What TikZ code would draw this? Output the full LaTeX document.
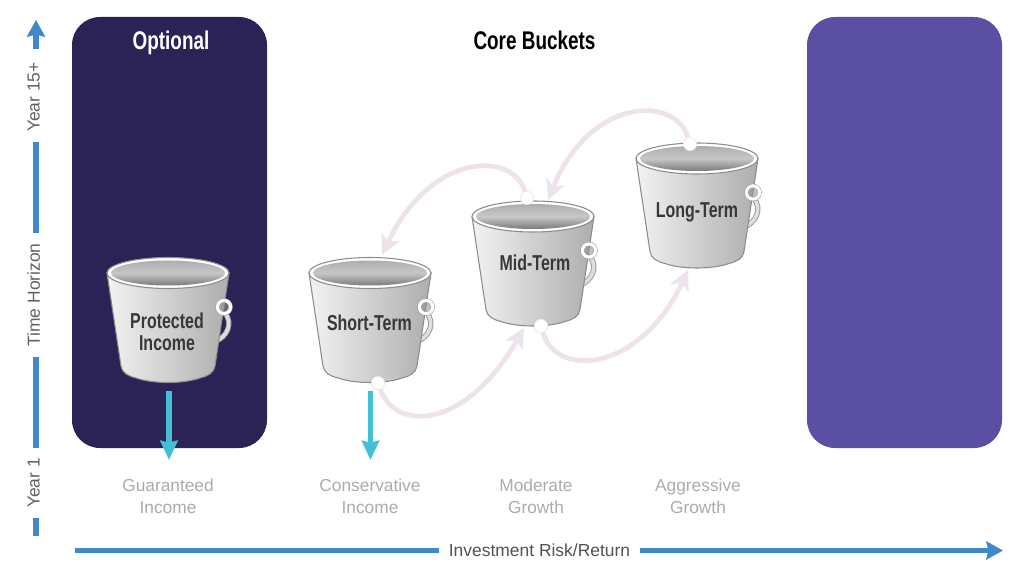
\documentclass[tikz,border=0pt]{standalone}
\usepackage{fontspec}
\setmainfont{Liberation Sans}
\newfontfamily\bucketfont[FakeStretch=0.74]{Liberation Sans}
\usetikzlibrary{arrows.meta}
\definecolor{optpanel}{HTML}{2B2356}
\definecolor{growpanel}{HTML}{5B4FA3}
\definecolor{axisblue}{HTML}{3F88C9}
\definecolor{drawteal}{HTML}{43C0D4}
\definecolor{flowpink}{HTML}{EEE3EA}
\tikzset{
  panel/.style={rounded corners=0.74cm},
  axisline/.style={axisblue, line width=4.4pt},
  axistip/.style={-{Stealth[length=12.5pt, width=13.5pt, inset=1.5pt]}},
  axislabel/.style={text=black!62, font=\fontsize{13.1}{15}\selectfont, text depth=0pt, inner ysep=0pt, inner xsep=0.264cm},
  timelabel/.style={axislabel, rotate=90, text depth=3.5pt},
  risklabel/.style={text=black!33, font=\fontsize{13}{16.4}\selectfont, align=center},
  bucketlabel/.style={text=black!78, font=\bucketfont\bfseries\fontsize{16.2}{16.6}\selectfont, align=center},
  title/.style={anchor=base, font=\bucketfont\bfseries\fontsize{19.2}{20}\selectfont},
  flow/.style={flowpink, line width=3.6pt, -{Stealth[length=15pt, width=15pt, inset=4pt]}},
  drawdown/.style={drawteal, line width=4.4pt, -{Stealth[length=14.5pt, width=13pt, inset=1.5pt]}},
  flowdot/.style={circle, fill=white, draw=flowpink, line width=0.5pt, minimum size=10pt, inner sep=0pt},
  bucket/.pic={
    % handle behind the body
    \draw[black!40, line width=4pt] (57,40) .. controls (65,50) and (60,64) .. (46,69);
    \draw[black!13, line width=2.6pt] (57,40) .. controls (65,50) and (60,64) .. (46,69);
    % body
    \draw[black!45, line width=0.8pt, left color=black!5, right color=black!32]
      (-61,0) -- (-47,93) .. controls (-46,100) and (-40,103) .. (-32,105)
      .. controls (-15,111) and (15,111) .. (32,105)
      .. controls (40,103) and (46,100) .. (47,93) -- (61,0) -- cycle;
    % rim
    \draw[black!45, line width=0.8pt, fill=white] (0,0) ellipse[x radius=61, y radius=15.5];
    \shade[top color=black!32, bottom color=black!52, middle color=black!22] (0,0) ellipse[x radius=57, y radius=12.5];
    % ring of the handle
    \draw[black!40, line width=3.2pt] (56,34) circle[radius=6.6];
    \draw[white, line width=2.4pt, fill=black!42, fill opacity=0.6] (56,34) circle[radius=6.6];
  }
}
\begin{document}
\begin{tikzpicture}[x=0.0264cm, y=-0.0264cm]
  \useasboundingbox (0,0) rectangle (1024,585);

  \fill[optpanel, panel] (72,17) rectangle (267,448);
  \fill[growpanel, panel] (807,17) rectangle (1002,448);

  \node[title, text=white] (optional) at (171,50) {Optional};
  \node[title] (core) at (534.5,50) {Core Buckets};

  % time axis
  \node[timelabel] (late) at (36,97) {Year 15+};
  \node[timelabel] (horizon) at (36,295) {Time Horizon};
  \node[timelabel] (early) at (36,483) {Year 1};
  \coordinate (axisfoot) at (36,49);
  \coordinate (axistop) at (36,20);
  \coordinate (axisbottom) at (36,536);
  \draw[axisline, axistip] (axisfoot) -- (axistop);
  \draw[axisline] (late) -- (horizon);
  \draw[axisline] (horizon) -- (early);
  \draw[axisline] (early) -- (axisbottom);

  % risk axis
  \node[axislabel, text=black!68] (risk) at (539.5,550.5) {Investment Risk/Return};
  \coordinate (riskleft) at (75,550.5);
  \coordinate (riskright) at (1003,550.5);
  \draw[axisline] (riskleft) -- (risk);
  \draw[axisline, axistip] (risk) -- (riskright);

  % buckets
  \pic at (168,273) {bucket};
  \pic at (370,273) {bucket};
  \pic at (533,216.5) {bucket};
  \pic at (697,158.5) {bucket};

  \node[bucketlabel] (protected) at (167,331.5) {Protected\\Income};
  \node[bucketlabel] (short) at (369.5,323) {Short-Term};
  \node[bucketlabel] (mid) at (535,263) {Mid-Term};
  \node[bucketlabel] (long) at (697,212) {Long-Term};

  % moves between buckets
  \node[flowdot] (shortout) at (378,383) {};
  \node[flowdot] (midout) at (541,326) {};
  \node[flowdot] (midin) at (527,198) {};
  \node[flowdot] (longin) at (690,144) {};
  \coordinate (midtip) at (524,328);
  \coordinate (longtip) at (688,270);
  \coordinate (shorttip) at (382,255);
  \coordinate (upmidtip) at (548,200);
  \draw[flow] (shortout) .. controls (395,431) and (465,431) .. (midtip);
  \draw[flow] (midout) .. controls (556,378) and (640,373) .. (longtip);
  \draw[flow] (longin) .. controls (675,95) and (590,97) .. (upmidtip);
  \draw[flow] (midin) .. controls (512,150) and (430,153) .. (shorttip);

  % draw-down arrows
  \coordinate (guarfoot) at (169,391);
  \coordinate (guartip) at (169,460);
  \coordinate (consfoot) at (370.5,391);
  \coordinate (constip) at (370.5,460);
  \draw[drawdown] (guarfoot) -- (guartip);
  \draw[drawdown] (consfoot) -- (constip);

  \node[risklabel] (guaranteed) at (168,496.5) {Guaranteed\\Income};
  \node[risklabel] (conservative) at (370,496.5) {Conservative\\Income};
  \node[risklabel] (moderate) at (536,496.5) {Moderate\\Growth};
  \node[risklabel] (aggressive) at (698,496.5) {Aggressive\\Growth};
\end{tikzpicture}
\end{document}
